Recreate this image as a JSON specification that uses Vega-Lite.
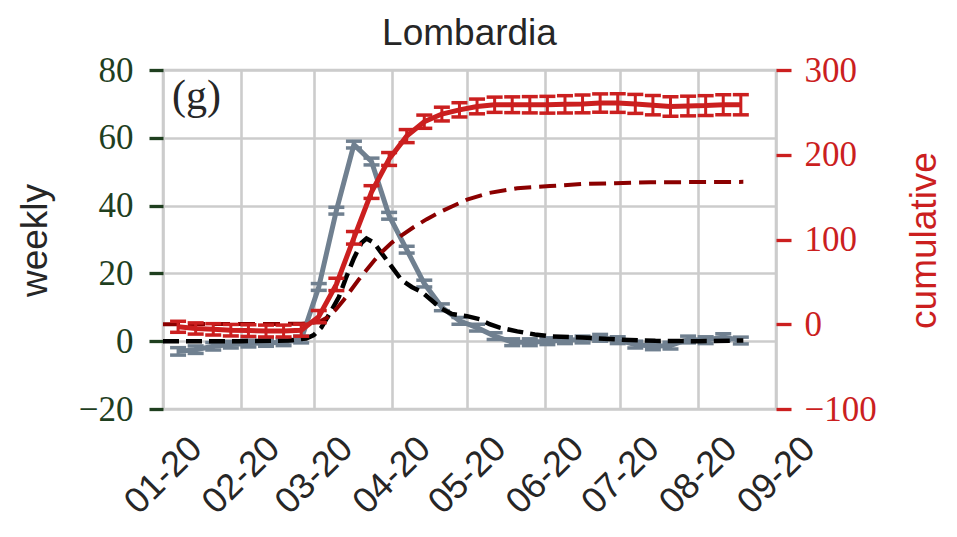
{
  "$schema": "https://vega.github.io/schema/vega-lite/v6.json",
  "width": 613,
  "height": 339,
  "autosize": {"type": "none"},
  "padding": {"left": 163, "top": 70, "right": 181, "bottom": 128},
  "background": "white",
  "title": {
    "text": "Lombardia",
    "font": "Liberation Sans",
    "fontSize": 37,
    "fontWeight": "normal",
    "color": "#262626",
    "anchor": "middle",
    "frame": "group",
    "offset": 0
  },
  "config": {
    "view": {"stroke": "#cccccc", "strokeWidth": 2.6}
  },
  "datasets": {
    "obs": [
      {"date": "2020-01-07", "weekly": -3, "werr": 1.1, "cum": -3, "cerr": 6.5},
      {"date": "2020-01-14", "weekly": -2.5, "werr": 1.1, "cum": -5, "cerr": 6.6},
      {"date": "2020-01-21", "weekly": -1.5, "werr": 1.1, "cum": -6, "cerr": 6.7},
      {"date": "2020-01-28", "weekly": -1, "werr": 1, "cum": -7, "cerr": 6.8},
      {"date": "2020-02-04", "weekly": -0.7, "werr": 1, "cum": -7.5, "cerr": 6.9},
      {"date": "2020-02-11", "weekly": -0.5, "werr": 1, "cum": -8, "cerr": 7.0},
      {"date": "2020-02-18", "weekly": -0.3, "werr": 1, "cum": -8, "cerr": 7.0},
      {"date": "2020-02-25", "weekly": 0.5, "werr": 1, "cum": -7, "cerr": 7.1},
      {"date": "2020-03-03", "weekly": 16, "werr": 1, "cum": 9, "cerr": 7.2},
      {"date": "2020-03-10", "weekly": 38.5, "werr": 1, "cum": 47, "cerr": 7.3},
      {"date": "2020-03-17", "weekly": 58, "werr": 1, "cum": 102, "cerr": 7.4},
      {"date": "2020-03-24", "weekly": 53, "werr": 1, "cum": 156, "cerr": 7.5},
      {"date": "2020-03-31", "weekly": 37, "werr": 1, "cum": 195, "cerr": 7.6},
      {"date": "2020-04-07", "weekly": 27, "werr": 1, "cum": 222, "cerr": 7.7},
      {"date": "2020-04-14", "weekly": 17, "werr": 1, "cum": 239, "cerr": 7.8},
      {"date": "2020-04-21", "weekly": 10, "werr": 1, "cum": 248, "cerr": 8.1},
      {"date": "2020-04-28", "weekly": 6, "werr": 1, "cum": 253, "cerr": 8.4},
      {"date": "2020-05-05", "weekly": 4, "werr": 1, "cum": 257, "cerr": 8.7},
      {"date": "2020-05-12", "weekly": 1.5, "werr": 1, "cum": 259, "cerr": 9.0},
      {"date": "2020-05-19", "weekly": -0.3, "werr": 1, "cum": 259, "cerr": 9.3},
      {"date": "2020-05-26", "weekly": -0.3, "werr": 1, "cum": 259, "cerr": 9.6},
      {"date": "2020-06-02", "weekly": 0, "werr": 1, "cum": 259, "cerr": 9.9},
      {"date": "2020-06-09", "weekly": 0.3, "werr": 1, "cum": 259.5, "cerr": 10.2},
      {"date": "2020-06-16", "weekly": 0.5, "werr": 1, "cum": 260, "cerr": 10.5},
      {"date": "2020-06-23", "weekly": 1, "werr": 1, "cum": 261, "cerr": 10.8},
      {"date": "2020-06-30", "weekly": 0.3, "werr": 1, "cum": 261, "cerr": 11.0},
      {"date": "2020-07-07", "weekly": -1, "werr": 1, "cum": 260, "cerr": 11.2},
      {"date": "2020-07-14", "weekly": -1.5, "werr": 1, "cum": 258.5, "cerr": 11.4},
      {"date": "2020-07-21", "weekly": -1.3, "werr": 1, "cum": 257, "cerr": 11.5},
      {"date": "2020-07-28", "weekly": 0.5, "werr": 1, "cum": 257.5, "cerr": 11.6},
      {"date": "2020-08-04", "weekly": 0.3, "werr": 1, "cum": 258, "cerr": 11.7},
      {"date": "2020-08-11", "weekly": 1.2, "werr": 1, "cum": 259, "cerr": 11.8},
      {"date": "2020-08-18", "weekly": 0.2, "werr": 1, "cum": 259, "cerr": 11.9}
    ],
    "wmodel": [
      {"date": "2020-01-01", "weekly": 0},
      {"date": "2020-02-01", "weekly": 0},
      {"date": "2020-02-20", "weekly": 0.2},
      {"date": "2020-02-27", "weekly": 0.8},
      {"date": "2020-03-01", "weekly": 1.8},
      {"date": "2020-03-04", "weekly": 4},
      {"date": "2020-03-08", "weekly": 9},
      {"date": "2020-03-11", "weekly": 13},
      {"date": "2020-03-14", "weekly": 19},
      {"date": "2020-03-17", "weekly": 24.5},
      {"date": "2020-03-20", "weekly": 29},
      {"date": "2020-03-22", "weekly": 30.3},
      {"date": "2020-03-25", "weekly": 29},
      {"date": "2020-03-28", "weekly": 26},
      {"date": "2020-04-01", "weekly": 22},
      {"date": "2020-04-05", "weekly": 18},
      {"date": "2020-04-09", "weekly": 16},
      {"date": "2020-04-13", "weekly": 14.5},
      {"date": "2020-04-17", "weekly": 12},
      {"date": "2020-04-21", "weekly": 9.5},
      {"date": "2020-04-25", "weekly": 8},
      {"date": "2020-05-01", "weekly": 7.4},
      {"date": "2020-05-06", "weekly": 6.5},
      {"date": "2020-05-10", "weekly": 5},
      {"date": "2020-05-14", "weekly": 4},
      {"date": "2020-05-21", "weekly": 2.9},
      {"date": "2020-05-28", "weekly": 2},
      {"date": "2020-06-04", "weekly": 1.4},
      {"date": "2020-06-16", "weekly": 1.1},
      {"date": "2020-06-30", "weekly": 0.5},
      {"date": "2020-07-15", "weekly": 0.1},
      {"date": "2020-08-01", "weekly": 0},
      {"date": "2020-08-19", "weekly": 0.2}
    ],
    "cmodel": [
      {"date": "2020-01-01", "cum": 0},
      {"date": "2020-02-25", "cum": 0.5},
      {"date": "2020-03-01", "cum": 2},
      {"date": "2020-03-04", "cum": 4},
      {"date": "2020-03-07", "cum": 9},
      {"date": "2020-03-10", "cum": 18},
      {"date": "2020-03-13", "cum": 29},
      {"date": "2020-03-16", "cum": 41},
      {"date": "2020-03-19", "cum": 53},
      {"date": "2020-03-22", "cum": 64},
      {"date": "2020-03-25", "cum": 75},
      {"date": "2020-03-28", "cum": 85},
      {"date": "2020-04-01", "cum": 96},
      {"date": "2020-04-05", "cum": 105},
      {"date": "2020-04-10", "cum": 115},
      {"date": "2020-04-15", "cum": 124},
      {"date": "2020-04-20", "cum": 132},
      {"date": "2020-04-25", "cum": 139},
      {"date": "2020-05-01", "cum": 147},
      {"date": "2020-05-10", "cum": 155},
      {"date": "2020-05-21", "cum": 160.5},
      {"date": "2020-06-03", "cum": 163},
      {"date": "2020-06-16", "cum": 165.5},
      {"date": "2020-06-29", "cum": 166.5},
      {"date": "2020-07-13", "cum": 167.5},
      {"date": "2020-08-19", "cum": 168}
    ]
  },
  "layer": [
    {
      "encoding": {
        "x": {
          "field": "date",
          "type": "temporal",
          "scale": {
            "type": "utc",
            "domain": [
              {"year": 2020, "month": 1, "date": 1, "utc": true},
              {"year": 2020, "month": 9, "date": 1, "utc": true}
            ]
          },
          "axis": {
            "title": null,
            "values": [
              {"year": 2020, "month": 1, "date": 1, "utc": true},
              {"year": 2020, "month": 2, "date": 1, "utc": true},
              {"year": 2020, "month": 3, "date": 1, "utc": true},
              {"year": 2020, "month": 4, "date": 1, "utc": true},
              {"year": 2020, "month": 5, "date": 1, "utc": true},
              {"year": 2020, "month": 6, "date": 1, "utc": true},
              {"year": 2020, "month": 7, "date": 1, "utc": true},
              {"year": 2020, "month": 8, "date": 1, "utc": true},
              {"year": 2020, "month": 9, "date": 1, "utc": true}
            ],
            "format": "%m-%y",
            "labelAngle": -45,
            "labelAlign": "center",
            "labelBaseline": "middle",
            "labelPadding": 66,
            "labelFlush": false,
            "labelOverlap": false,
            "labelFont": "Liberation Sans",
            "labelFontSize": 36,
            "labelColor": "#262626",
            "ticks": false,
            "tickSize": 0,
            "domain": false,
            "grid": true,
            "gridColor": "#cccccc",
            "gridWidth": 2.6
          }
        },
        "y": {
          "field": "weekly",
          "type": "quantitative",
          "scale": {"domain": [-20, 80], "nice": false, "zero": false},
          "axis": {
            "orient": "left",
            "title": "weekly",
            "values": [-20, 0, 20, 40, 60, 80],
            "grid": true,
            "gridColor": "#cccccc",
            "gridWidth": 2.6,
            "domain": false,
            "tickColor": "#1f3f1f",
            "tickSize": 14,
            "tickWidth": 3.3,
            "labelPadding": 16,
            "labelFont": "Liberation Serif",
            "labelFontSize": 35,
            "labelColor": "#1f3f1f",
            "titleFont": "Liberation Sans",
            "titleFontSize": 37,
            "titleFontWeight": "normal",
            "titleColor": "#262626",
            "titleAngle": -90,
            "titleAlign": "center",
            "titleBaseline": "alphabetic",
            "titleX": -117,
            "titleY": 170
          }
        }
      },
      "layer": [
        {
          "data": {"name": "obs"},
          "mark": {"type": "errorbar", "color": "#708090", "opacity": 1, "thickness": 3, "ticks": {"size": 16, "thickness": 3.5, "opacity": 1}, "rule": {"opacity": 1}},
          "encoding": {"yError": {"field": "werr"}}
        },
        {
          "data": {"name": "obs"},
          "mark": {"type": "line", "color": "#708090", "strokeWidth": 5}
        },
        {
          "data": {"name": "wmodel"},
          "mark": {"type": "line", "color": "black", "strokeWidth": 4.5, "strokeDash": [16, 7]}
        }
      ]
    },
    {
      "encoding": {
        "x": {
          "field": "date",
          "type": "temporal",
          "scale": {
            "type": "utc",
            "domain": [
              {"year": 2020, "month": 1, "date": 1, "utc": true},
              {"year": 2020, "month": 9, "date": 1, "utc": true}
            ]
          }
        },
        "y": {
          "field": "cum",
          "type": "quantitative",
          "scale": {"domain": [-100, 300], "nice": false, "zero": false},
          "axis": {
            "orient": "right",
            "title": "cumulative",
            "values": [-100, 0, 100, 200, 300],
            "grid": false,
            "domain": false,
            "tickColor": "#cb1f1f",
            "tickSize": 15,
            "tickWidth": 3.3,
            "labelPadding": 13,
            "labelFont": "Liberation Serif",
            "labelFontSize": 35,
            "labelColor": "#cb1f1f",
            "titleFont": "Liberation Sans",
            "titleFontSize": 37,
            "titleFontWeight": "normal",
            "titleColor": "#cb1f1f",
            "titleAngle": -90,
            "titleAlign": "center",
            "titleBaseline": "alphabetic",
            "titleX": 159,
            "titleY": 170
          }
        }
      },
      "layer": [
        {
          "data": {"name": "cmodel"},
          "mark": {"type": "line", "color": "#8b0000", "strokeWidth": 4, "strokeDash": [17, 8]}
        },
        {
          "data": {"name": "obs"},
          "mark": {"type": "errorbar", "color": "#cb1f1f", "opacity": 1, "thickness": 3, "ticks": {"size": 16, "thickness": 3.5, "opacity": 1}, "rule": {"opacity": 1}},
          "encoding": {"yError": {"field": "cerr"}}
        },
        {
          "data": {"name": "obs"},
          "mark": {"type": "line", "color": "#cb1f1f", "strokeWidth": 5}
        }
      ]
    },
    {
      "data": {"values": [{"label": "(g)"}]},
      "mark": {"type": "text", "font": "Liberation Serif", "fontSize": 42, "color": "#262626", "align": "left", "baseline": "alphabetic", "dx": 9},
      "encoding": {
        "x": {"datum": {"year": 2020, "month": 1, "date": 1, "utc": true}, "type": "temporal"},
        "y": {"datum": 68.4, "type": "quantitative", "scale": {"domain": [-20, 80], "nice": false, "zero": false}, "axis": null},
        "text": {"field": "label"}
      }
    }
  ],
  "resolve": {"scale": {"y": "independent"}}
}
